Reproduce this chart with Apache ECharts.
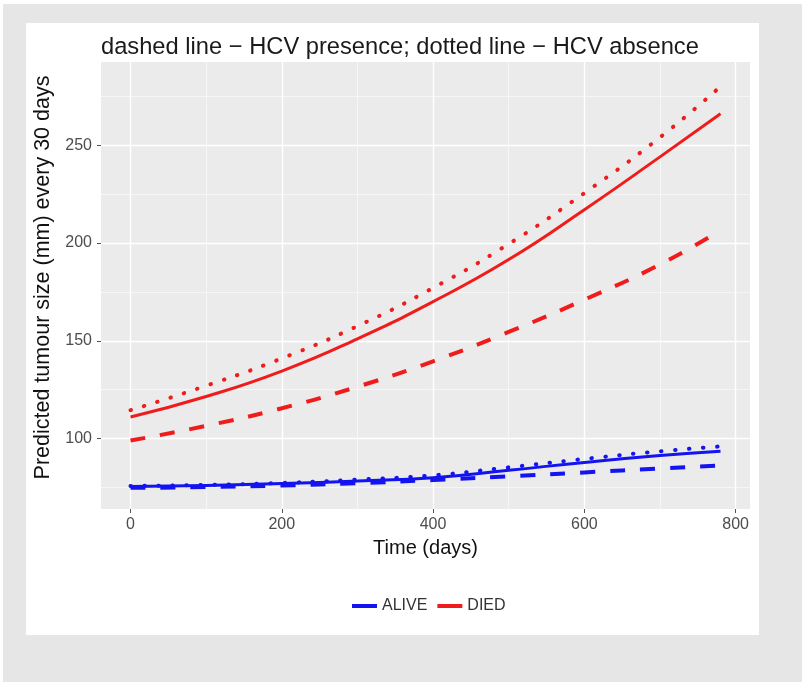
<!DOCTYPE html>
<html>
<head>
<meta charset="utf-8">
<script src="https://cdn.jsdelivr.net/npm/echarts@6/dist/echarts.min.js"></script>
<style>
  html, body { margin: 0; padding: 0; background: #e6e6e6; }
  #chart { width: 802px; height: 682px; }
</style>
</head>
<body>
<div id="chart"></div>
<script>
// time points (days)
const days = [0, 100, 200, 300, 400, 500, 600, 700, 780];

// DIED (red)
const diedSolid = [111, 121.5, 134.5, 151, 170, 191.5, 217, 244, 266];
const diedHcvAbsent = [114.5, 127, 141, 157.5, 177, 199.5, 225.5, 254, 280];   // dotted
const diedHcvPresent = [99, 106.5, 115.5, 126.5, 139.5, 154.5, 171, 189, 206.5]; // dashed

// ALIVE (blue)
const aliveSolid = [75.5, 76, 77, 78.3, 80, 83.8, 87.8, 91.3, 93.5];
const aliveHcvAbsent = [75.8, 76.3, 77.3, 79, 81.2, 85.3, 89.6, 93.5, 96];
const aliveHcvPresent = [74.8, 75.2, 76, 77.2, 78.8, 80.7, 82.7, 84.7, 86.3];

const xTicks = [0, 200, 400, 600, 800];
const xMinorTicks = [100, 300, 500, 700];
const yTicks = [100, 150, 200, 250];
const yMinorTicks = [75, 125, 175, 225, 275];

const RED = "#f01c1c";
const BLUE = "#1414f0";

const pts = (vals) => days.map((d, i) => [d, vals[i]]);

const lineSeries = (name, vals, color, type) => ({
  name: name,
  type: "line",
  smooth: true,
  showSymbol: false,
  silent: true,
  data: pts(vals),
  itemStyle: { color: color },
  lineStyle: {
    color: color,
    width: type === "solid" ? 3 : 4,
    type: type === "dotted" ? [0.5, 13.5] : type === "dashed" ? [15, 15] : "solid",
    cap: type === "dotted" ? "round" : "butt",
  },
});

const chart = echarts.init(document.getElementById("chart"));

const option = {
  backgroundColor: "#e6e6e6",
  animation: false,
  graphic: [
    // white page frame
    { type: "rect", left: 0, top: 0, z: -1, shape: { width: 802, height: 4 }, style: { fill: "#fff" } },
    { type: "rect", left: 0, top: 0, z: -1, shape: { width: 3, height: 682 }, style: { fill: "#fff" } },
    // white plot background
    {
      type: "rect",
      left: 26,
      top: 23,
      z: -1,
      shape: { width: 733, height: 612 },
      style: { fill: "#ffffff" },
    },
  ],
  title: {
    text: "dashed line \u2212 HCV presence; dotted line \u2212 HCV absence",
    left: 96,
    top: 30,
    textStyle: {
      fontFamily: "Liberation Sans",
      fontSize: 23.7,
      fontWeight: "normal",
      color: "#1a1a1a",
    },
  },
  legend: {
    data: ["ALIVE", "DIED"],
    left: 347,
    top: 593,
    icon: "rect",
    itemWidth: 25,
    itemHeight: 4,
    itemGap: 10,
    selectedMode: false,
    textStyle: { fontFamily: "Liberation Sans", fontSize: 16, color: "#333" },
  },
  grid: {
    left: 101,
    right: 52,
    top: 62,
    bottom: 173,
    show: true,
    backgroundColor: "#ebebeb",
    borderWidth: 0,
  },
  xAxis: [
    {
      type: "value",
      min: -39,
      max: 819,
      name: "Time (days)",
      nameLocation: "middle",
      nameGap: 29,
      nameTextStyle: { fontFamily: "Liberation Sans", fontSize: 20, color: "#111" },
      axisLine: { show: false, onZero: false },
      axisTick: { show: true, length: 4, customValues: xTicks, lineStyle: { color: "#555" } },
      axisLabel: {
        customValues: xTicks,
        margin: 8,
        fontFamily: "Liberation Sans",
        fontSize: 16,
        color: "#4d4d4d",
      },
      splitLine: { show: true, lineStyle: { color: "#ffffff", width: 1.4 } },
    },
    {
      // minor grid lines only
      type: "value",
      min: -39,
      max: 819,
      position: "bottom",
      axisLine: { show: false, onZero: false },
      axisTick: { show: false, customValues: xMinorTicks },
      axisLabel: { show: false, customValues: xMinorTicks },
      splitLine: { show: true, lineStyle: { color: "#fafafa", width: 0.7 } },
    },
  ],
  yAxis: [
    {
      type: "value",
      min: 64,
      max: 292.5,
      name: "Predicted tumour size (mm) every 30 days",
      nameLocation: "middle",
      nameGap: 44,
      nameTextStyle: {
        fontFamily: "Liberation Sans",
        fontSize: 21.5,
        color: "#111",
        padding: [0, 0, 0, 16],
      },
      axisLine: { show: false, onZero: false },
      axisTick: { show: true, length: 4, customValues: yTicks, lineStyle: { color: "#555" } },
      axisLabel: {
        customValues: yTicks,
        margin: 9,
        fontFamily: "Liberation Sans",
        fontSize: 16,
        color: "#4d4d4d",
      },
      splitLine: { show: true, lineStyle: { color: "#ffffff", width: 1.4 } },
    },
    {
      type: "value",
      min: 64,
      max: 292.5,
      position: "left",
      axisLine: { show: false, onZero: false },
      axisTick: { show: false, customValues: yMinorTicks },
      axisLabel: { show: false, customValues: yMinorTicks },
      splitLine: { show: true, lineStyle: { color: "#fafafa", width: 0.7 } },
    },
  ],
  series: [
    lineSeries("ALIVE", aliveSolid, BLUE, "solid"),
    lineSeries("ALIVE (HCV absence)", aliveHcvAbsent, BLUE, "dotted"),
    lineSeries("ALIVE (HCV presence)", aliveHcvPresent, BLUE, "dashed"),
    lineSeries("DIED", diedSolid, RED, "solid"),
    lineSeries("DIED (HCV absence)", diedHcvAbsent, RED, "dotted"),
    lineSeries("DIED (HCV presence)", diedHcvPresent, RED, "dashed"),
  ],
};

chart.setOption(option);
</script>
</body>
</html>
